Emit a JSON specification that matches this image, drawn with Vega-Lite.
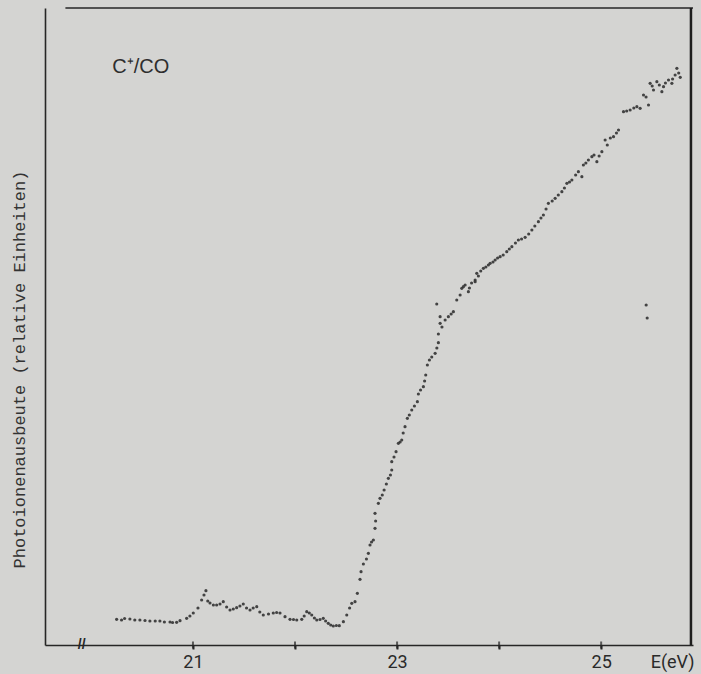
{
  "$schema": "https://vega.github.io/schema/vega-lite/v6.json",
  "width": 648,
  "height": 637,
  "autosize": "none",
  "padding": {"left": 45, "top": 8, "right": 8, "bottom": 29},
  "background": "#d4d4d2",
  "config": {"view": {"stroke": null}},
  "datasets": {
    "pts": [
      {"E": 20.252, "Y": 25.7}, {"E": 20.30, "Y": 25}, {"E": 20.33, "Y": 26.5}, {"E": 20.382, "Y": 26}, {"E": 20.43, "Y": 25},
      {"E": 20.48, "Y": 25}, {"E": 20.53, "Y": 24.5}, {"E": 20.578, "Y": 24}, {"E": 20.63, "Y": 24}, {"E": 20.676, "Y": 24},
      {"E": 20.72, "Y": 23}, {"E": 20.775, "Y": 23}, {"E": 20.80, "Y": 22.5}, {"E": 20.84, "Y": 22.7}, {"E": 20.873, "Y": 24.3},
      {"E": 20.938, "Y": 26.7}, {"E": 20.97, "Y": 29}, {"E": 21.003, "Y": 32}, {"E": 21.049, "Y": 37}, {"E": 21.085, "Y": 45},
      {"E": 21.108, "Y": 50}, {"E": 21.127, "Y": 54.3}, {"E": 21.145, "Y": 44}, {"E": 21.167, "Y": 42}, {"E": 21.20, "Y": 40},
      {"E": 21.232, "Y": 40}, {"E": 21.265, "Y": 41}, {"E": 21.297, "Y": 43.3}, {"E": 21.33, "Y": 38}, {"E": 21.363, "Y": 35},
      {"E": 21.395, "Y": 36}, {"E": 21.428, "Y": 37.3}, {"E": 21.46, "Y": 39}, {"E": 21.493, "Y": 41}, {"E": 21.525, "Y": 37},
      {"E": 21.559, "Y": 35}, {"E": 21.59, "Y": 37}, {"E": 21.625, "Y": 38.3}, {"E": 21.655, "Y": 33}, {"E": 21.689, "Y": 30},
      {"E": 21.74, "Y": 31}, {"E": 21.787, "Y": 32}, {"E": 21.82, "Y": 32.5}, {"E": 21.853, "Y": 32}, {"E": 21.902, "Y": 28.3},
      {"E": 21.951, "Y": 25.7}, {"E": 21.985, "Y": 25.5}, {"E": 22.017, "Y": 25}, {"E": 22.066, "Y": 25.7}, {"E": 22.09, "Y": 29},
      {"E": 22.115, "Y": 33.3}, {"E": 22.14, "Y": 32}, {"E": 22.164, "Y": 30}, {"E": 22.19, "Y": 27}, {"E": 22.213, "Y": 25},
      {"E": 22.245, "Y": 25.5}, {"E": 22.277, "Y": 26.7}, {"E": 22.30, "Y": 24}, {"E": 22.326, "Y": 21.7}, {"E": 22.35, "Y": 20},
      {"E": 22.375, "Y": 19}, {"E": 22.405, "Y": 19.5}, {"E": 22.434, "Y": 19.3}, {"E": 22.474, "Y": 23.3}, {"E": 22.507, "Y": 30},
      {"E": 22.535, "Y": 37}, {"E": 22.556, "Y": 41.7}, {"E": 22.588, "Y": 43.3}, {"E": 22.611, "Y": 51.7}, {"E": 22.637, "Y": 65.7},
      {"E": 22.647, "Y": 73.3}, {"E": 22.67, "Y": 81}, {"E": 22.70, "Y": 86}, {"E": 22.719, "Y": 91.7}, {"E": 22.735, "Y": 100},
      {"E": 22.75, "Y": 103}, {"E": 22.768, "Y": 105}, {"E": 22.784, "Y": 116.7}, {"E": 22.79, "Y": 124}, {"E": 22.784, "Y": 131.7},
      {"E": 22.817, "Y": 141.7}, {"E": 22.833, "Y": 146.7}, {"E": 22.855, "Y": 150}, {"E": 22.873, "Y": 155}, {"E": 22.895, "Y": 161},
      {"E": 22.915, "Y": 166.7}, {"E": 22.935, "Y": 170}, {"E": 22.948, "Y": 175}, {"E": 22.948, "Y": 183.3}, {"E": 22.97, "Y": 188},
      {"E": 22.99, "Y": 193.3}, {"E": 23.013, "Y": 201.7}, {"E": 23.03, "Y": 203}, {"E": 23.046, "Y": 205}, {"E": 23.06, "Y": 212},
      {"E": 23.078, "Y": 218.3}, {"E": 23.101, "Y": 226.7}, {"E": 23.12, "Y": 230}, {"E": 23.144, "Y": 235}, {"E": 23.17, "Y": 239},
      {"E": 23.199, "Y": 243.3}, {"E": 23.209, "Y": 251}, {"E": 23.23, "Y": 255}, {"E": 23.258, "Y": 258.3}, {"E": 23.27, "Y": 264},
      {"E": 23.281, "Y": 270}, {"E": 23.297, "Y": 280}, {"E": 23.317, "Y": 285}, {"E": 23.34, "Y": 288}, {"E": 23.373, "Y": 291.7},
      {"E": 23.39, "Y": 297}, {"E": 23.405, "Y": 302.3}, {"E": 23.405, "Y": 311}, {"E": 23.422, "Y": 321.7}, {"E": 23.422, "Y": 328.3},
      {"E": 23.44, "Y": 318}, {"E": 23.471, "Y": 325}, {"E": 23.503, "Y": 328.3}, {"E": 23.389, "Y": 341}, {"E": 23.53, "Y": 331},
      {"E": 23.552, "Y": 333.3}, {"E": 23.585, "Y": 345}, {"E": 23.618, "Y": 350}, {"E": 23.634, "Y": 356.7}, {"E": 23.65, "Y": 358.3},
      {"E": 23.667, "Y": 360}, {"E": 23.699, "Y": 353.3}, {"E": 23.709, "Y": 357}, {"E": 23.73, "Y": 362}, {"E": 23.765, "Y": 363.3},
      {"E": 23.765, "Y": 365}, {"E": 23.781, "Y": 371.7}, {"E": 23.797, "Y": 369}, {"E": 23.82, "Y": 374}, {"E": 23.846, "Y": 376.7},
      {"E": 23.87, "Y": 378}, {"E": 23.895, "Y": 380}, {"E": 23.912, "Y": 381.7}, {"E": 23.94, "Y": 383}, {"E": 23.961, "Y": 385},
      {"E": 23.985, "Y": 387}, {"E": 24.01, "Y": 388.3}, {"E": 24.04, "Y": 390}, {"E": 24.075, "Y": 393.3}, {"E": 24.10, "Y": 396},
      {"E": 24.125, "Y": 398.3}, {"E": 24.16, "Y": 402}, {"E": 24.189, "Y": 405}, {"E": 24.22, "Y": 406}, {"E": 24.255, "Y": 407.7},
      {"E": 24.29, "Y": 411}, {"E": 24.321, "Y": 415}, {"E": 24.35, "Y": 419}, {"E": 24.385, "Y": 423.3}, {"E": 24.41, "Y": 427},
      {"E": 24.434, "Y": 430}, {"E": 24.46, "Y": 436}, {"E": 24.483, "Y": 441.7}, {"E": 24.52, "Y": 444}, {"E": 24.549, "Y": 446.7},
      {"E": 24.58, "Y": 450}, {"E": 24.615, "Y": 453.3}, {"E": 24.64, "Y": 457}, {"E": 24.664, "Y": 461.7}, {"E": 24.69, "Y": 463},
      {"E": 24.713, "Y": 465}, {"E": 24.75, "Y": 470}, {"E": 24.777, "Y": 473.3}, {"E": 24.811, "Y": 468.3}, {"E": 24.826, "Y": 480},
      {"E": 24.85, "Y": 482}, {"E": 24.875, "Y": 485}, {"E": 24.909, "Y": 488.3}, {"E": 24.93, "Y": 490}, {"E": 24.958, "Y": 483.3},
      {"E": 24.98, "Y": 489}, {"E": 25.007, "Y": 493.3}, {"E": 25.039, "Y": 505}, {"E": 25.06, "Y": 500}, {"E": 25.09, "Y": 507},
      {"E": 25.121, "Y": 508.3}, {"E": 25.15, "Y": 512}, {"E": 25.17, "Y": 515}, {"E": 25.219, "Y": 533.3}, {"E": 25.25, "Y": 534},
      {"E": 25.284, "Y": 535}, {"E": 25.32, "Y": 537}, {"E": 25.35, "Y": 538.3}, {"E": 25.382, "Y": 536.7}, {"E": 25.415, "Y": 550},
      {"E": 25.44, "Y": 548}, {"E": 25.464, "Y": 540}, {"E": 25.48, "Y": 561.7}, {"E": 25.50, "Y": 559}, {"E": 25.513, "Y": 555},
      {"E": 25.546, "Y": 563.3}, {"E": 25.57, "Y": 560}, {"E": 25.595, "Y": 553.3}, {"E": 25.611, "Y": 558.3}, {"E": 25.63, "Y": 562},
      {"E": 25.66, "Y": 565}, {"E": 25.693, "Y": 561.7}, {"E": 25.70, "Y": 566}, {"E": 25.725, "Y": 570}, {"E": 25.742, "Y": 576.7},
      {"E": 25.76, "Y": 572}, {"E": 25.775, "Y": 567.7},
      {"E": 25.441, "Y": 340}, {"E": 25.451, "Y": 327}
    ],
    "ticks": [{"E": 21}, {"E": 22}, {"E": 23}, {"E": 24}, {"E": 25}],
    "one": [{"k": 1}]
  },
  "encoding": {
    "x": {"type": "quantitative", "scale": {"domain": [19.55, 25.9], "nice": false, "zero": false}},
    "y": {"type": "quantitative", "scale": {"domain": [0, 637], "nice": false}}
  },
  "layer": [
    {
      "data": {"name": "pts"},
      "mark": {"type": "circle", "size": 10, "color": "#333333", "opacity": 0.9},
      "encoding": {
        "x": {
          "field": "E", "type": "quantitative",
          "axis": {
            "values": [21, 22, 23, 24, 25],
            "format": "d",
            "labelExpr": "datum.value % 2 == 1 ? datum.label : ''",
            "title": null, "grid": false,
            "domainColor": "#262626", "domainWidth": 1.6,
            "tickColor": "#262626", "tickWidth": 2, "tickSize": 4,
            "labelFont": "Roboto", "labelFontSize": 18, "labelColor": "#2a2a2a",
            "labelPadding": 4
          }
        },
        "y": {
          "field": "Y", "type": "quantitative",
          "axis": {
            "ticks": false, "labels": false, "grid": false,
            "domainColor": "#262626", "domainWidth": 1.6,
            "title": "Photoionenausbeute (relative Einheiten)",
            "titleFont": "Liberation Mono", "titleFontSize": 17, "titleFontWeight": "normal",
            "titleColor": "#333333", "titleAngle": 270, "titleAlign": "center", "titleBaseline": "middle",
            "titleX": -26, "titleY": 361
          }
        }
      }
    },
    {
      "data": {"name": "ticks"},
      "mark": {"type": "tick", "orient": "vertical", "size": 7, "thickness": 2, "color": "#262626"},
      "encoding": {"x": {"field": "E", "type": "quantitative"}, "y": {"datum": 0}}
    },
    {
      "data": {"name": "one"},
      "mark": {"type": "rule", "color": "#262626", "strokeWidth": 1.6},
      "encoding": {"x": {"datum": 19.75}, "x2": {"datum": 25.9}, "y": {"datum": 637}}
    },
    {
      "data": {"name": "one"},
      "mark": {"type": "rule", "color": "#1e1e1e", "strokeWidth": 2.5},
      "encoding": {"x": {"datum": 25.88}, "y": {"datum": 0}, "y2": {"datum": 637}}
    },
    {
      "data": {"name": "one"},
      "mark": {"type": "text", "text": "//", "font": "Liberation Sans", "fontSize": 14, "fontWeight": "bold", "color": "#262626", "baseline": "middle", "align": "center"},
      "encoding": {"x": {"datum": 19.91}, "y": {"datum": 0}}
    },
    {
      "data": {"name": "one"},
      "mark": {"type": "text", "text": "E(eV)", "font": "Roboto", "fontSize": 18, "color": "#2a2a2a", "baseline": "middle", "align": "center"},
      "encoding": {"x": {"datum": 25.7}, "y": {"datum": -18}}
    },
    {
      "data": {"name": "one"},
      "mark": {"type": "text", "text": "C⁺/CO", "font": "Liberation Sans", "fontSize": 20, "color": "#2e2e2e", "baseline": "middle", "align": "left"},
      "encoding": {"x": {"datum": 20.21}, "y": {"datum": 578}}
    }
  ]
}
